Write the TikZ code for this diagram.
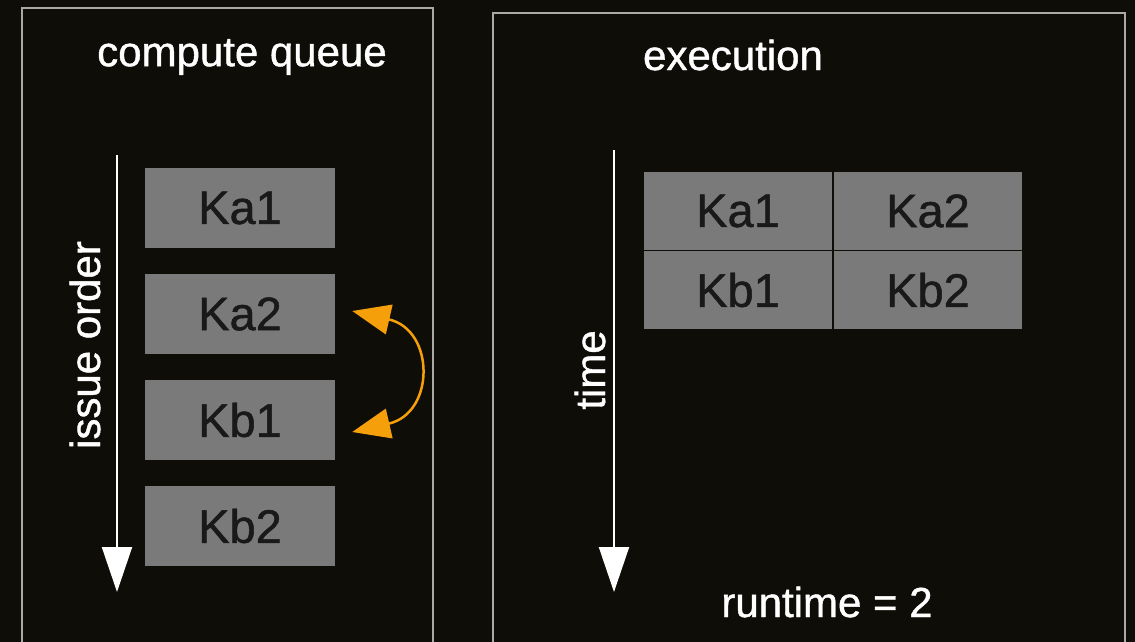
\documentclass[tikz,border=0pt]{standalone}
\usepackage{fontspec}
\setmainfont{Liberation Sans}
\usetikzlibrary{arrows.meta}
\definecolor{bg}{RGB}{15,13,8}
\definecolor{frame}{RGB}{170,170,165}
\definecolor{kbox}{RGB}{122,122,122}
\definecolor{swaporange}{RGB}{245,160,10}
\tikzset{
	kern/.style={fill=kbox,text=black!90,minimum width=190pt,minimum height=80pt,inner sep=0pt,font=\fontsize{47}{52}\selectfont\addfontfeature{FakeBold=1}},
	cell/.style={kern,draw=bg,line width=1.5pt,minimum width=190pt,minimum height=79pt},
	lbl/.style={text=white,font=\fontsize{42}{48}\selectfont\addfontfeature{FakeBold=1}},
	flow/.style={white,line width=2pt,-{Triangle[length=45pt,width=30pt]}},
	swapline/.style={swaporange,line width=2.5pt,{Triangle[length=38pt,width=30pt]}-{Triangle[length=38pt,width=30pt]}}
}
\begin{document}
\begin{tikzpicture}[x=1pt,y=1pt]
					\useasboundingbox (0,0) rectangle (1135,-642);
					\fill[bg] (0,0) rectangle (1135,-642);
					\draw[frame,line width=2pt] (22,-660) -- (22,-8) -- (433,-8) -- (433,-660);
					\draw[frame,line width=2pt] (493,-660) -- (493,-13) -- (1125,-13) -- (1125,-660);
					\node[kern] (1) at (240,-208) {Ka1};
					\node[kern] (2) at (240,-314) {Ka2};
					\node[kern] (3) at (240,-420) {Kb1};
					\node[kern] (4) at (240,-526) {Kb2};
					\node[cell] (5) at (738,-211) {Ka1};
					\node[cell] (6) at (928,-211) {Ka2};
					\node[cell] (7) at (738,-290) {Kb1};
					\node[cell] (8) at (928,-290) {Kb2};
					\node[lbl] (9) at (242,-57) {compute queue};
					\node[lbl,rotate=90] (10) at (85,-345) {issue order};
					\node[lbl] (11) at (733,-55) {execution};
					\node[lbl,rotate=90] (12) at (590,-370) {time};
					\node[lbl] (13) at (827,-602) {runtime = 2};
					\coordinate (14) at (117,-155);
					\coordinate (15) at (117,-592);
					\coordinate (16) at (614,-150);
					\coordinate (17) at (614,-592);
					\draw[flow] (14) -- (15);
					\draw[flow] (16) -- (17);
					\draw[swapline] ([shift={(17pt,3pt)}]2.east) .. controls +(83,-19) and +(83,19) .. ([shift={(17pt,-12pt)}]3.east);
				\end{tikzpicture}
\end{document}
